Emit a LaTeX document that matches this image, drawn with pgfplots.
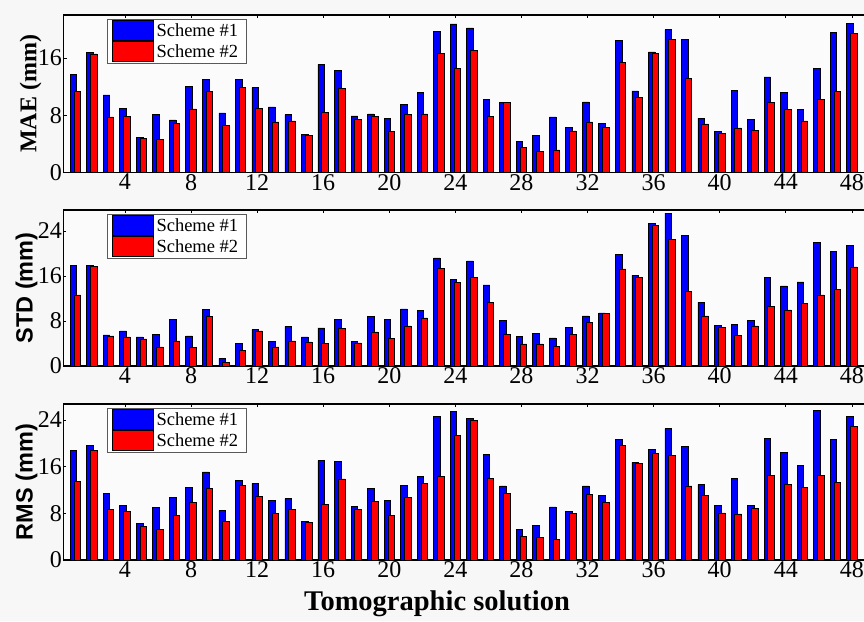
\documentclass[border=0pt]{standalone}
\usepackage{fontspec}
\setmainfont{Liberation Serif}
\newfontfamily\sansbf{Liberation Sans}
\usepackage{pgfplots}
\usepackage{pgfplotstable}
\pgfplotsset{compat=1.18}
\definecolor{bgout}{HTML}{F7F7F7}
\definecolor{bgin}{HTML}{FBFBFB}

\pgfplotstableread{
x a b
1 13.7 11.35
2 16.74 16.56
3 10.84 7.77
4 8.98 7.81
5 4.88 4.7
6 8.09 4.6
7 7.35 6.88
8 12.0 8.88
9 13.03 11.35
10 8.33 6.6
11 13.03 11.9
12 11.86 8.98
13 9.16 7.07
14 8.09 7.21
15 5.3 5.16
16 15.1 8.37
17 14.23 11.77
18 7.9 7.44
19 8.18 7.82
20 7.53 5.72
21 9.49 8.09
22 11.16 8.18
23 19.76 16.6
24 20.75 14.56
25 20.19 17.02
26 10.23 7.82
27 9.77 9.77
28 4.33 3.54
29 5.16 2.93
30 7.77 3.16
31 6.28 5.81
32 9.86 7.07
33 6.88 6.32
34 18.41 15.4
35 11.39 10.46
36 16.84 16.65
37 19.95 18.56
38 18.6 13.12
39 7.58 6.79
40 5.72 5.4
41 11.49 6.23
42 7.4 5.91
43 13.35 9.81
44 11.21 8.79
45 8.84 7.21
46 14.56 10.19
47 19.54 11.35
48 20.8 19.44
}\maetab

\pgfplotstableread{
x a b
1 17.9 12.62
2 17.9 17.72
3 5.51 5.33
4 6.22 5.16
5 5.16 4.8
6 5.63 3.38
7 8.3 4.44
8 5.33 3.32
9 10.07 8.77
10 1.42 0.59
11 3.97 2.84
12 6.46 6.22
13 4.33 3.38
14 7.05 4.44
15 5.16 4.27
16 6.76 3.97
17 8.24 6.7
18 4.39 4.09
19 8.77 6.04
20 8.24 4.86
21 10.13 7.11
22 9.84 8.53
23 19.2 17.3
24 15.35 14.87
25 18.67 15.7
26 14.4 11.26
27 8.12 5.57
28 5.21 3.91
29 5.81 3.91
30 4.98 3.44
31 6.87 5.63
32 8.89 7.7
33 9.42 9.3
34 19.79 17.24
35 16.12 15.76
36 25.36 24.89
37 27.14 22.46
38 23.11 13.27
39 11.32 8.89
40 7.23 6.87
41 7.35 5.39
42 8.06 7.11
43 15.76 10.55
44 14.22 9.96
45 14.93 11.08
46 21.99 12.62
47 20.27 13.63
48 21.39 17.6
}\stdtab

\pgfplotstableread{
x a b
1 18.74 13.43
2 19.6 18.8
3 11.37 8.69
4 9.37 8.34
5 6.34 5.83
6 9.03 5.2
7 10.8 7.6
8 12.51 9.94
9 15.09 12.34
10 8.51 6.63
11 13.6 12.86
12 13.14 10.91
13 10.17 7.94
14 10.51 8.69
15 6.63 6.4
16 17.03 9.49
17 16.97 13.89
18 9.2 8.63
19 12.23 10.06
20 10.23 7.6
21 12.8 10.8
22 14.34 13.09
23 24.57 14.34
24 25.54 21.37
25 24.29 23.94
26 18.17 14.0
27 12.69 11.43
28 5.2 4.11
29 5.89 3.94
30 9.09 3.6
31 8.34 7.94
32 12.69 11.2
33 11.09 9.83
34 20.69 19.66
35 16.74 16.51
36 18.91 18.34
37 22.51 17.89
38 19.43 12.69
39 12.91 11.14
40 9.31 8.06
41 14.0 7.89
42 9.31 8.86
43 20.86 14.51
44 18.51 12.97
45 16.29 12.4
46 25.66 14.57
47 20.63 13.37
48 24.57 22.91
}\rmstab

\pgfplotsset{
  panel/.style={
    scale only axis, width=803.2pt,
    xmin=0.28, xmax=48.9, ymin=0,
    xtick={4,8,...,48}, ytick={0,8,...,24},
    axis line style={line width=1.3pt},
    tick align=inside, major tick length=3pt,
    tick style={black, line width=0.6pt},
    ticklabel style={font=\fontsize{24}{26}\selectfont},
    /pgf/number format/assume math mode=true,
    xticklabel style={inner sep=1.5pt},
    yticklabel style={inner sep=1.5pt},
    axis background/.style={fill=bgin},
    ylabel style={at={(axis description cs:-0.041,0.5)}, anchor=center},
    legend style={at={(axis description cs:0,1)}, anchor=north west,
      xshift=43pt, yshift=-4pt, draw=black!65, line width=0.6pt, fill=white,
      font=\fontsize{18.5}{20}\selectfont,
      nodes={inner xsep=3pt, inner ysep=3.5pt},
      inner xsep=5pt, inner ysep=0.5pt, row sep=0pt,
      cells={anchor=west}},
  },
  legrect/.style={legend image code/.code={
      \draw[##1,/tikz/.cd] (0pt,-10pt) rectangle (41pt,10pt);}},
  bl/.style={ybar, bar width=6.6pt, bar shift=-1.9pt, fill=blue, draw=black,
    line width=0.7pt, legrect},
  rd/.style={ybar, bar width=6.6pt, bar shift=1.9pt, fill=red, draw=black,
    line width=0.7pt, legrect},
}

\begin{document}
\begin{tikzpicture}
\fill[bgout] (0,0) rectangle (864pt,621pt);
\useasboundingbox (0,0) rectangle (864pt,621pt);

\begin{axis}[panel, at={(63.5pt,448.5pt)}, anchor=south west,
  height=157.5pt, ymax=22,
  ylabel={MAE (mm)},
  ylabel style={font=\bfseries\fontsize{24}{25}\selectfont}]
\addplot[bl] table[x=x, y=a] {\maetab};
\addplot[rd] table[x=x, y=b] {\maetab};
\legend{Scheme \#1\hspace{6pt}, Scheme \#2\hspace{6pt}}
\end{axis}

\begin{axis}[panel, at={(63.5pt,255pt)}, anchor=south west,
  height=156pt, ymax=27.7,
  ylabel={STD (mm)},
  ylabel style={at={(axis description cs:-0.046,0.5)}, font=\sansbf\bfseries\fontsize{23.5}{24}\selectfont}]
\addplot[bl] table[x=x, y=a] {\stdtab};
\addplot[rd] table[x=x, y=b] {\stdtab};
\legend{Scheme \#1\hspace{6pt}, Scheme \#2\hspace{6pt}}
\end{axis}

\begin{axis}[panel, at={(63.5pt,61pt)}, anchor=south west,
  height=156pt, ymax=26.75,
  ylabel={RMS (mm)},
  ylabel style={at={(axis description cs:-0.046,0.5)}, font=\sansbf\bfseries\fontsize{23.5}{24}\selectfont},
  xlabel={Tomographic solution},
  xlabel style={at={(axis description cs:0.465,0)}, anchor=center, yshift=-44pt,
    font=\bfseries\fontsize{28.5}{30}\selectfont}]
\addplot[bl] table[x=x, y=a] {\rmstab};
\addplot[rd] table[x=x, y=b] {\rmstab};
\legend{Scheme \#1\hspace{6pt}, Scheme \#2\hspace{6pt}}
\end{axis}
\end{tikzpicture}
\end{document}
